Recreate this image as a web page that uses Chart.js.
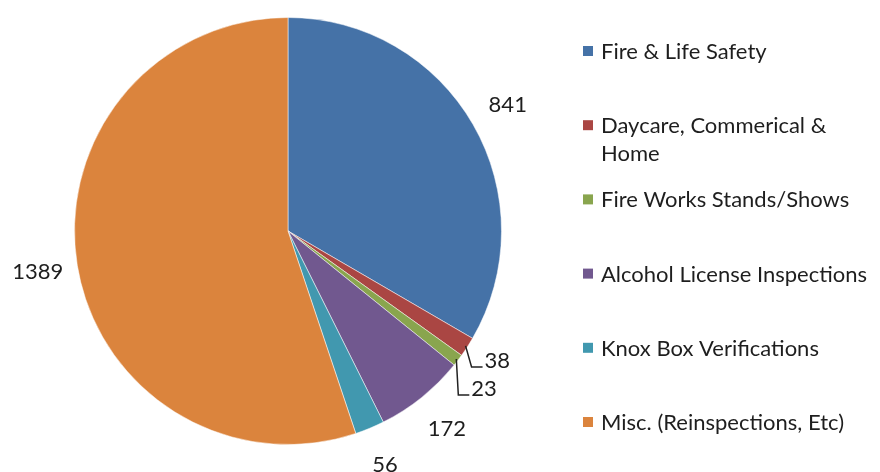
<!DOCTYPE html>
<html>
<head>
<meta charset="utf-8">
<script src="https://cdn.jsdelivr.net/npm/chart.js@4/dist/chart.umd.min.js"></script>
<style>
  html, body { margin: 0; padding: 0; background: #fff; }
  #wrap { width: 880px; height: 472px; }
</style>
</head>
<body>
<div id="wrap"><canvas id="inspChart" width="880" height="472"></canvas></div>
<script>
// inspection categories and counts
const categories = [
  'Fire & Life Safety',
  'Daycare, Commerical & Home',
  'Fire Works Stands/Shows',
  'Alcohol License Inspections',
  'Knox Box Verifications',
  'Misc. (Reinspections, Etc)'
];
const counts = [841, 38, 23, 172, 56, 1389];
const colors = ['#4572A7', '#AA4643', '#89A54E', '#71588F', '#4198AF', '#DB843D'];

const FONT = '22px Lato, "Open Sans", sans-serif';
const TEXT = '#1e1e1e';

// labels outside the slices, with elbow leaders for the thin ones
const outsideLabels = {
  id: 'outsideLabels',
  afterDatasetsDraw(chart) {
    const c = chart.ctx;
    const meta = chart.getDatasetMeta(0);
    const total = counts.reduce((a, b) => a + b, 0);
    const leaders = { 1: [6, 21], 2: [2, 36] }; // elbow offset from the rim
    c.save();
    c.font = FONT;
    c.fillStyle = TEXT;
    c.strokeStyle = '#222';
    c.lineWidth = 1.5;
    meta.data.forEach((arc, i) => {
      const p = arc.getProps(['x', 'y', 'startAngle', 'endAngle', 'outerRadius'], true);
      const mid = (p.startAngle + p.endAngle) / 2;
      const txt = String(counts[i]);
      if (counts[i] / total < 0.02) {
        const sx = p.x + Math.cos(mid) * (p.outerRadius - 2);
        const sy = p.y + Math.sin(mid) * (p.outerRadius - 2);
        const off = leaders[i] || [6, 24];
        const ex = sx + off[0], ey = sy + off[1];
        c.beginPath();
        c.moveTo(sx, sy);
        c.lineTo(ex, ey);
        c.lineTo(ex + 11, ey);
        c.stroke();
        c.textAlign = 'left';
        c.textBaseline = 'middle';
        c.fillText(txt, ex + 13, ey - 6);
      } else {
        const r = p.outerRadius + 40;
        c.textAlign = 'center';
        c.textBaseline = 'middle';
        c.fillText(txt, p.x + Math.cos(mid) * r, p.y + Math.sin(mid) * r);
      }
    });
    c.restore();
  }
};

// legend on the right, one slot per item, long names wrapped
const sideLegend = {
  id: 'sideLegend',
  afterDraw(chart) {
    const c = chart.ctx;
    const x0 = 583, y0 = 51, step = 74.2, box = 10, maxW = 268, lineH = 28;
    c.save();
    c.font = FONT;
    c.textAlign = 'left';
    c.textBaseline = 'middle';
    categories.forEach((name, i) => {
      const y = y0 + i * step;
      c.fillStyle = colors[i];
      c.fillRect(x0, y - box / 2, box, box);
      // wrap words
      const words = name.split(' ');
      const lines = [];
      let cur = '';
      words.forEach(w => {
        const t = cur ? cur + ' ' + w : w;
        if (c.measureText(t).width > maxW && cur) { lines.push(cur); cur = w; }
        else cur = t;
      });
      lines.push(cur);
      c.fillStyle = TEXT;
      lines.forEach((ln, k) => c.fillText(ln, x0 + 18, y + 1 + k * lineH));
    });
    c.restore();
  }
};

new Chart(document.getElementById('inspChart').getContext('2d'), {
  type: 'pie',
  data: {
    labels: categories,
    datasets: [{
      data: counts,
      backgroundColor: colors,
      borderColor: 'rgba(255,255,255,0.5)',
      borderWidth: 1
    }]
  },
  options: {
    responsive: false,
    animation: false,
    layout: { padding: { left: 74, right: 378, top: 17, bottom: 27 } },
    plugins: {
      legend: { display: false },
      tooltip: { enabled: false }
    }
  },
  plugins: [outsideLabels, sideLegend]
});
</script>
</body>
</html>
